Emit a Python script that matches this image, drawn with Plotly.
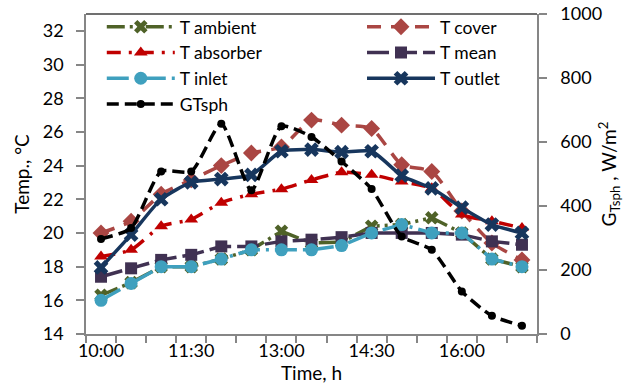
import plotly.graph_objects as go

times = ["10:00", "10:30", "11:00", "11:30", "12:00", "12:30", "13:00", "13:30",
         "14:00", "14:30", "15:00", "15:30", "16:00", "16:30", "17:00"]
tick_labels = ["10:00", "11:30", "13:00", "14:30", "16:00"]

t_ambient = [16.3, 17.05, 18.0, 18.0, 18.45, 19.0, 20.1, 19.4, 19.45, 20.4, 20.5, 20.9, 20.0, 18.45, 18.0]
t_cover = [20.0, 20.7, 22.3, 23.15, 24.0, 24.75, 25.1, 26.7, 26.4, 26.2, 24.05, 23.65, 21.3, 19.4, 18.4]
t_absorber = [18.6, 19.0, 20.4, 20.8, 21.8, 22.3, 22.6, 23.15, 23.6, 23.45, 23.05, 22.65, 21.1, 20.7, 20.3]
t_mean = [17.4, 17.9, 18.4, 18.7, 19.2, 19.2, 19.5, 19.6, 19.75, 20.0, 20.0, 20.0, 19.9, 19.5, 19.3]
t_inlet = [16.0, 17.0, 18.0, 18.0, 18.45, 19.0, 19.0, 19.0, 19.25, 20.0, 20.5, 20.0, 20.0, 18.45, 18.0]
t_outlet = [17.95, 19.9, 22.0, 23.0, 23.2, 23.45, 24.85, 24.95, 24.8, 24.85, 23.4, 22.65, 21.5, 20.5, 20.0]
g_tsph = [297, 331, 508, 508, 657, 449, 649, 616, 539, 453, 305, 263, 133, 57, 26]

x = list(range(len(times)))
FONT = "Lato"

fig = go.Figure()

def add(name, y, color, dash, symbol, msize, legend, shape="linear", width=3.5, yaxis="y"):
    fig.add_trace(go.Scatter(
        x=x, y=y, name=name, yaxis=yaxis, legend=legend,
        mode="lines+markers",
        line=dict(color=color, width=width, dash=dash, shape=shape, smoothing=0.6),
        marker=dict(symbol=symbol, size=msize, color=color, line=dict(width=0)),
    ))

add("T ambient", t_ambient, "#4F6228", "18px,5px,3px,5px,3px,5px", "x", 12, "legend")
add("T cover", t_cover, "#AA4643", "14px,10px", "diamond", 13, "legend2", shape="spline")
add("T absorber", t_absorber, "#C00000", "14px,8px,3px,8px", "triangle-up", 12, "legend", shape="spline")
add("T mean", t_mean, "#403152", "22px,6px", "square", 12, "legend2")
add("T inlet", t_inlet, "#3FA0BE", "22px,6px,3px,6px", "circle", 13, "legend")
add("T outlet", t_outlet, "#17365D", "solid", "x", 13, "legend2", shape="spline")
add("GTsph", g_tsph, "#000000", "12px,6px", "circle", 8, "legend", shape="spline", yaxis="y2")

axis_gray = "#868686"
leg_common = dict(orientation="v", y=1.016, xanchor="left", yanchor="top",
                  bgcolor="rgba(0,0,0,0)", font=dict(family=FONT, size=17.5),
                  itemwidth=68, tracegroupgap=0, traceorder="normal")

fig.update_layout(
    width=626, height=392,
    margin=dict(l=86, r=89, t=14, b=58, autoexpand=False),
    paper_bgcolor="white", plot_bgcolor="white",
    font=dict(family=FONT, size=16, color="black"),
    showlegend=True,
    legend=dict(x=0.035, **leg_common),
    legend2=dict(x=0.612, **leg_common),
    xaxis=dict(
        range=[-0.5, len(times) - 0.5],
        tickmode="array", tickvals=[times.index(t) for t in tick_labels], ticktext=tick_labels,
        ticks="", showgrid=False, zeroline=False,
        showline=True, linecolor=axis_gray, linewidth=1.5,
        tickfont=dict(size=18),
        minor=dict(ticks="outside", tick0=-0.5, dtick=1, ticklen=7, tickcolor=axis_gray, tickwidth=1.5, showgrid=False),
        title=dict(text="Time, h", font=dict(size=19), standoff=4),
    ),
    yaxis=dict(
        range=[14, 33], tickmode="linear", tick0=14, dtick=2,
        ticks="outside", ticklen=8, tickcolor=axis_gray, tickwidth=1.5,
        showgrid=False, zeroline=False, ticklabeloverflow="allow",
        showline=True, linecolor=axis_gray, linewidth=1.5,
        tickfont=dict(size=18), ticklabelstandoff=9,
        title=dict(text="Temp., °C", font=dict(size=19), standoff=8),
    ),
    yaxis2=dict(
        overlaying="y", side="right", range=[0, 1000], tickmode="linear", tick0=0, dtick=200,
        ticks="outside", ticklen=8, tickcolor=axis_gray, tickwidth=1.5,
        showgrid=False, zeroline=False, ticklabeloverflow="allow",
        showline=True, linecolor=axis_gray, linewidth=1.5,
        tickfont=dict(size=18), ticklabelstandoff=10,
        title=dict(text="G<sub>Tsph</sub> , W/m<sup>2</sup>", font=dict(size=19), standoff=2),
    ),
    shapes=[dict(type="line", xref="paper", yref="paper", x0=0, x1=1, y0=1, y1=1,
                 line=dict(color="#404040", width=1.5))],
)

fig.write_html("out.html", config={"displayModeBar": False},
               post_script="document.body.style.margin='0px';")
